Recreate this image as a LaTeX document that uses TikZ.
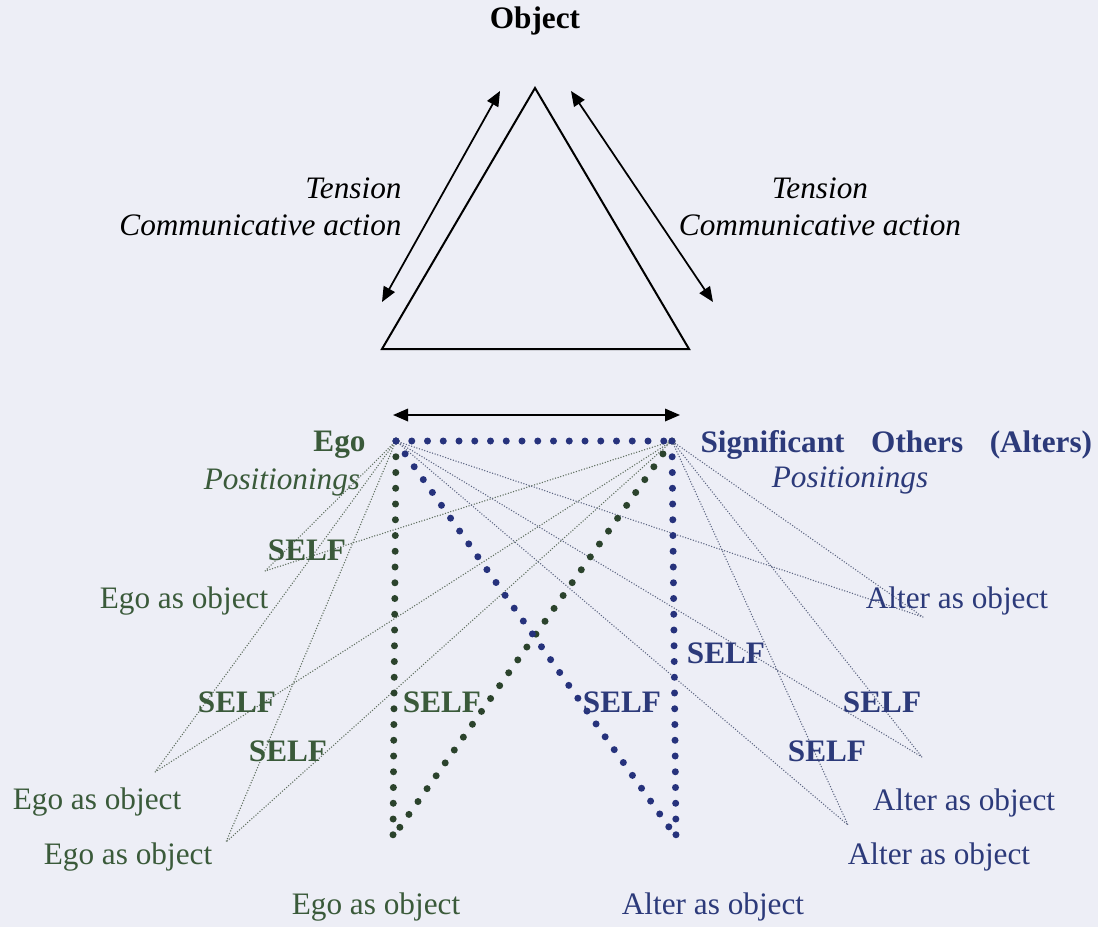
\documentclass[tikz,border=0pt]{standalone}
\usepackage{fontspec}
\setmainfont{Liberation Serif}
\usetikzlibrary{arrows.meta}
\definecolor{paper}{HTML}{EDEEF6}
\definecolor{egogreen}{HTML}{3A5A3A}
\definecolor{egodot}{HTML}{2B432C}
\definecolor{altblue}{HTML}{2C3A7A}
\definecolor{altdot}{HTML}{26327C}
\definecolor{egoline}{HTML}{5E6E5E}
\definecolor{altline}{HTML}{5C6582}
\newcommand{\lblsize}{\fontsize{12.5}{15}\selectfont}
\tikzset{
  bigdots/.style={line width=2.8pt, line cap=round, dash pattern=on 0pt off 6.3pt},
  thindots/.style={line width=0.6pt, line cap=round, dash pattern=on 0pt off 1.1pt},
  twoway/.style={{Triangle[length=6pt,width=5pt]}-{Triangle[length=6pt,width=5pt]}, line width=0.7pt},
  selfword/.style={font=\lblsize\bfseries},
  egotext/.style={text=egogreen},
  alttext/.style={text=altblue}
}
\begin{document}
\begin{tikzpicture}[x=0.4pt, y=-0.4pt, every node/.style={inner sep=0pt, font=\lblsize}]
    \fill[paper] (0,0) rectangle (1098,927);
    \useasboundingbox (0,0) rectangle (1098,927);
    % triangle of object, ego and alter
    \coordinate (apex) at (535,88);
    \coordinate (baseL) at (382,349);
    \coordinate (baseR) at (689,349);
    \draw[line width=0.8pt] (apex) -- (baseR) -- (baseL) -- cycle;
    \node[font=\lblsize\bfseries] (object) at (535,21) {Object};
    \coordinate (tlA) at (500,91);
    \coordinate (tlB) at (382,302);
    \coordinate (trA) at (571,91);
    \coordinate (trB) at (713,302);
    \draw[twoway] (tlA) -- (tlB);
    \draw[twoway] (trA) -- (trB);
    \node[anchor=east, align=right, font=\lblsize\itshape] (tensionL) at (402,207) {Tension\\Communicative action};
    \node[align=center, font=\lblsize\itshape] (tensionR) at (820,207) {Tension\\Communicative action};
    \coordinate (arrL) at (393,415);
    \coordinate (arrR) at (680,415);
    \draw[twoway] (arrL) -- (arrR);
    % ego and alter
    \coordinate (ego) at (396,441);
    \coordinate (alter) at (672,441);
    \coordinate (egoObj) at (393,837);
    \coordinate (altObj) at (676,837);
    \node[anchor=east, egotext, font=\lblsize\bfseries] (egoname) at (366,445) {Ego};
    \node[egotext, font=\lblsize\itshape] (egopos) at (282,482) {Positionings};
    \node[anchor=west, alttext, font=\lblsize\bfseries] (altname) at (700,445) {Significant\hspace{7.5pt} Others\hspace{7.5pt} (Alters)};
    \node[alttext, font=\lblsize\itshape] (altpos) at (850,480) {Positionings};
    % apexes of the positionings
    \coordinate (p1) at (265,571);
    \coordinate (p2) at (155,772);
    \coordinate (p3) at (226,842);
    \coordinate (q1) at (923,617);
    \coordinate (q2) at (922,757);
    \coordinate (q3) at (848,825);
    \foreach \p in {p1,p2,p3}
        \draw[thindots, egoline] (ego) -- (\p) -- (alter);
    \foreach \q in {q1,q2,q3}
        \draw[thindots, altline] (ego) -- (\q) -- (alter);
    \draw[bigdots, egodot] (ego) -- (egoObj);
    \draw[bigdots, egodot] (alter) -- (egoObj);
    \draw[bigdots, altdot] (ego) -- (alter);
    \draw[bigdots, altdot] (ego) -- (altObj);
    \draw[bigdots, altdot] (alter) -- (altObj);
    % labels
    \node[egotext] (eo1) at (184,601) {Ego as object};
    \node[egotext] (eo2) at (97,802) {Ego as object};
    \node[egotext] (eo3) at (128,857) {Ego as object};
    \node[egotext] (eo4) at (376,907) {Ego as object};
    \node[alttext] (ao1) at (957,601) {Alter as object};
    \node[alttext] (ao2) at (964,803) {Alter as object};
    \node[alttext] (ao3) at (939,857) {Alter as object};
    \node[alttext] (ao4) at (713,907) {Alter as object};
    \node[selfword, egotext] (s1) at (307,550) {SELF};
    \node[selfword, egotext] (s2) at (237,702) {SELF};
    \node[selfword, egotext] (s3) at (288,751) {SELF};
    \node[selfword, egotext] (s4) at (442,702) {SELF};
    \node[selfword, alttext] (s5) at (622,702) {SELF};
    \node[selfword, alttext] (s6) at (726,653) {SELF};
    \node[selfword, alttext] (s7) at (882,702) {SELF};
    \node[selfword, alttext] (s8) at (827,751) {SELF};
\end{tikzpicture}
\end{document}
